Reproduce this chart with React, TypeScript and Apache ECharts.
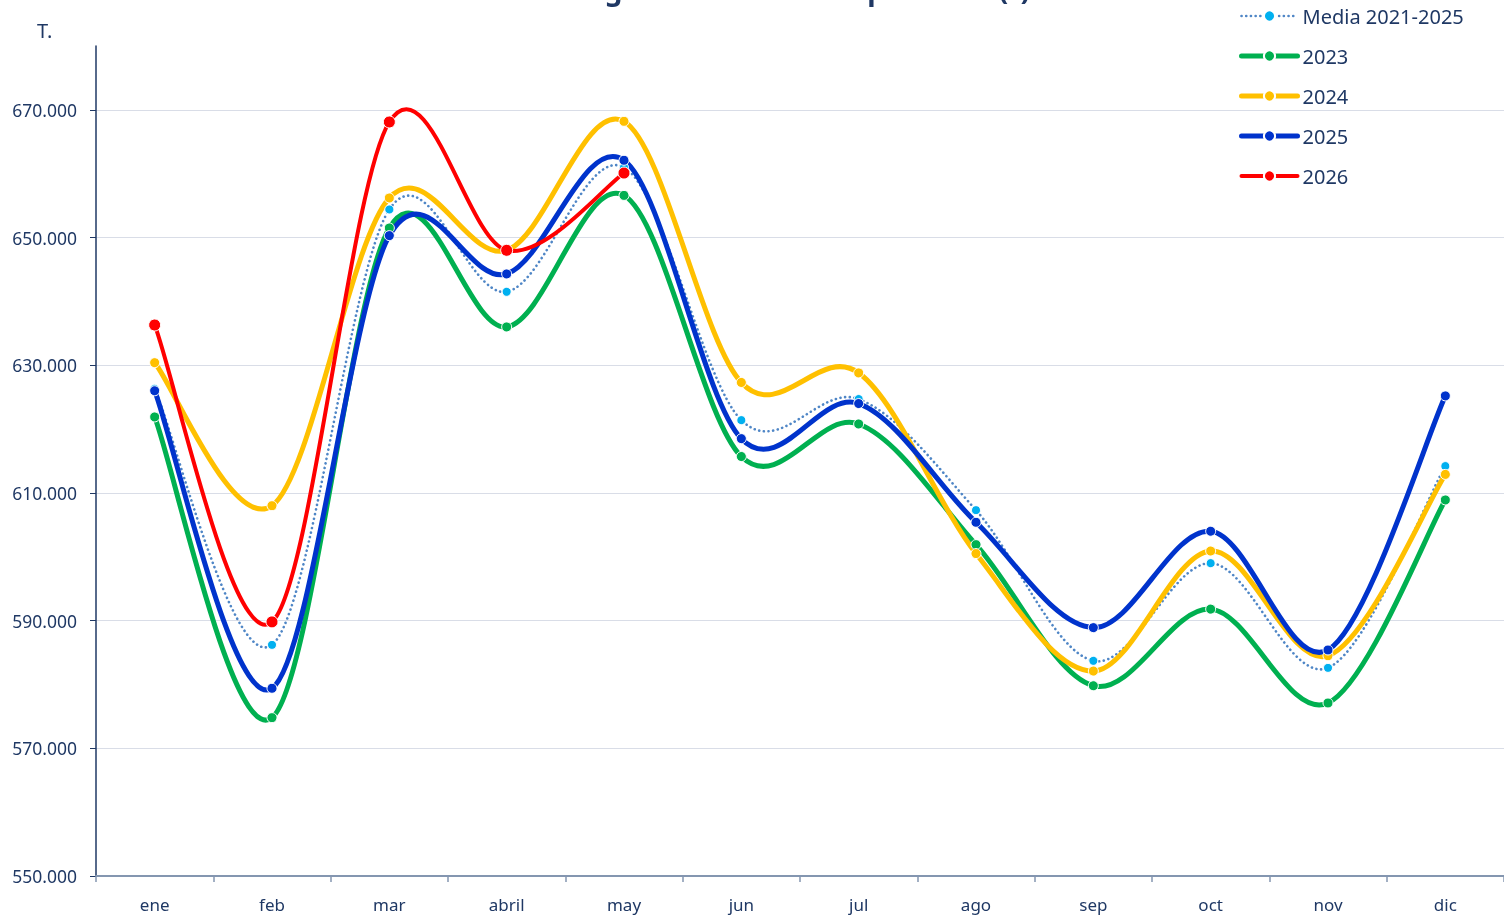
import React, { useEffect, useRef } from "react";
import * as echarts from "echarts";

const months = ["ene", "feb", "mar", "abril", "may", "jun", "jul", "ago", "sep", "oct", "nov", "dic"];
const media = [626300, 586200, 654400, 641500, 661000, 621400, 624700, 607300, 583700, 599000, 582600, 614200];
const s2023 = [621900, 574800, 651500, 636000, 656600, 615700, 620800, 601900, 579800, 591800, 577100, 608900];
const s2024 = [630400, 608000, 656200, 648000, 668200, 627300, 628800, 600500, 582100, 600900, 584500, 612900];
const s2025 = [626000, 579400, 650300, 644300, 662100, 618500, 624000, 605400, 588900, 604000, 585400, 625200];
const s2026 = [636300, 589800, 668100, 648000, 660100];
const yTicks = [550000, 570000, 590000, 610000, 630000, 650000, 670000];

const NAVY = "#1F3864";
const FONT = "Noto Sans";

function fmt(v: number) {
  return String(Math.round(v)).replace(/\B(?=(\d{3})+(?!\d))/g, ".");
}

type Def = {
  name: string;
  data: number[];
  line: string;
  marker: string;
  width: number;
  size: number;
  dash?: number[];
};

const defs: Def[] = [
  { name: "Media 2021-2025", data: media, line: "#4F86C6", marker: "#00B0F0", width: 2.6, size: 9, dash: [0.1, 4.6] },
  { name: "2023", data: s2023, line: "#00B050", marker: "#00B050", width: 5, size: 10 },
  { name: "2024", data: s2024, line: "#FFC000", marker: "#FFC000", width: 5, size: 10 },
  { name: "2025", data: s2025, line: "#0033CC", marker: "#0033CC", width: 5, size: 10 },
  { name: "2026", data: s2026, line: "#FF0000", marker: "#FF0000", width: 4, size: 12 },
];

function curveSeries(d: Def) {
  const data = d.data;
  return {
    name: d.name + "_curve",
    type: "custom",
    coordinateSystem: "cartesian2d",
    silent: true,
    encode: { x: 0, y: 1 },
    data: data.map((v, i) => [i, v]),
    renderItem: (params: any, api: any) => {
      if (params.dataIndex !== 0) return null;
      const pts = data.map((v, i) => api.coord([i, v]));
      let p = `M${pts[0][0]},${pts[0][1]}`;
      for (let i = 0; i < pts.length - 1; i++) {
        const p0 = pts[i - 1] || pts[i];
        const p1 = pts[i];
        const p2 = pts[i + 1];
        const p3 = pts[i + 2] || pts[i + 1];
        const c1x = p1[0] + (p2[0] - p0[0]) / 6;
        const c1y = p1[1] + (p2[1] - p0[1]) / 6;
        const c2x = p2[0] - (p3[0] - p1[0]) / 6;
        const c2y = p2[1] - (p3[1] - p1[1]) / 6;
        p += ` C${c1x},${c1y} ${c2x},${c2y} ${p2[0]},${p2[1]}`;
      }
      return {
        type: "path",
        shape: { pathData: p },
        style: {
          fill: "none",
          stroke: d.line,
          lineWidth: d.width,
          lineCap: "round",
          lineJoin: "round",
          lineDash: d.dash || null,
        },
      };
    },
  };
}

function markerSeries(d: Def) {
  return {
    name: d.name,
    type: "line",
    data: d.data,
    symbol: "circle",
    symbolSize: d.size,
    lineStyle: { color: d.line, width: 0, opacity: 0 },
    itemStyle: { color: d.marker, borderColor: "#ffffff", borderWidth: 1 },
    emphasis: { disabled: true },
  };
}

export default function App() {
  const ref = useRef<HTMLDivElement>(null);
  useEffect(() => {
    if (!ref.current) return;
    const chart = echarts.init(ref.current, null, { renderer: "svg" });
    const series: any[] = [];
    defs.forEach((d) => {
      series.push(curveSeries(d));
      series.push(markerSeries(d));
    });
    chart.setOption({
      animation: false,
      textStyle: { fontFamily: FONT },
      grid: { left: 96, right: 0, top: 46, bottom: 43, containLabel: false },
      graphic: [
        {
          type: "text",
          left: 37,
          top: 20,
          style: { text: "T.", fontSize: 20, fill: NAVY, fontFamily: FONT },
        },
        {
          type: "text",
          x: 780,
          y: 3,
          style: {
            text: "Entregas de leche a compradores (t)",
            fontSize: 28,
            fontWeight: "bold",
            fill: NAVY,
            fontFamily: FONT,
            align: "center",
            verticalAlign: "bottom",
          },
        },
      ],
      legend: {
        orient: "vertical",
        left: 1234,
        top: 1,
        itemWidth: 56,
        itemHeight: 14,
        itemGap: 20,
        textStyle: { fontSize: 20, color: NAVY, fontFamily: FONT },
        data: defs.map((d) => ({
          name: d.name,
          lineStyle: {
            color: d.line,
            width: d.width,
            opacity: 1,
            type: d.dash ? [0.1, 4.6] : "solid",
            cap: "round",
          },
        })),
      },
      xAxis: {
        type: "category",
        data: months,
        boundaryGap: true,
        axisLine: { lineStyle: { color: "#8496B0", width: 2 } },
        axisTick: { show: true, length: 6, lineStyle: { color: "#8496B0", width: 1.5 } },
        axisLabel: { fontSize: 17, color: NAVY, margin: 20, fontFamily: FONT },
        splitLine: { show: false },
      },
      yAxis: {
        type: "value",
        min: 550000,
        max: 680000,
        interval: 20000,
        axisLine: { show: true, lineStyle: { color: NAVY, width: 1.5 } },
        axisTick: { show: true, length: 6, customValues: yTicks, lineStyle: { color: NAVY } },
        axisLabel: {
          fontSize: 17.5,
          color: NAVY,
          margin: 19,
          fontFamily: FONT,
          customValues: yTicks,
          formatter: (v: number) => fmt(v),
        },
        splitLine: { show: true, lineStyle: { color: "#D9DDE7", width: 1 } },
      },
      series,
    });
    return () => chart.dispose();
  }, []);
  return <div ref={ref} style={{ position: "fixed", left: 0, top: 0, width: 1504, height: 919 }} />;
}
